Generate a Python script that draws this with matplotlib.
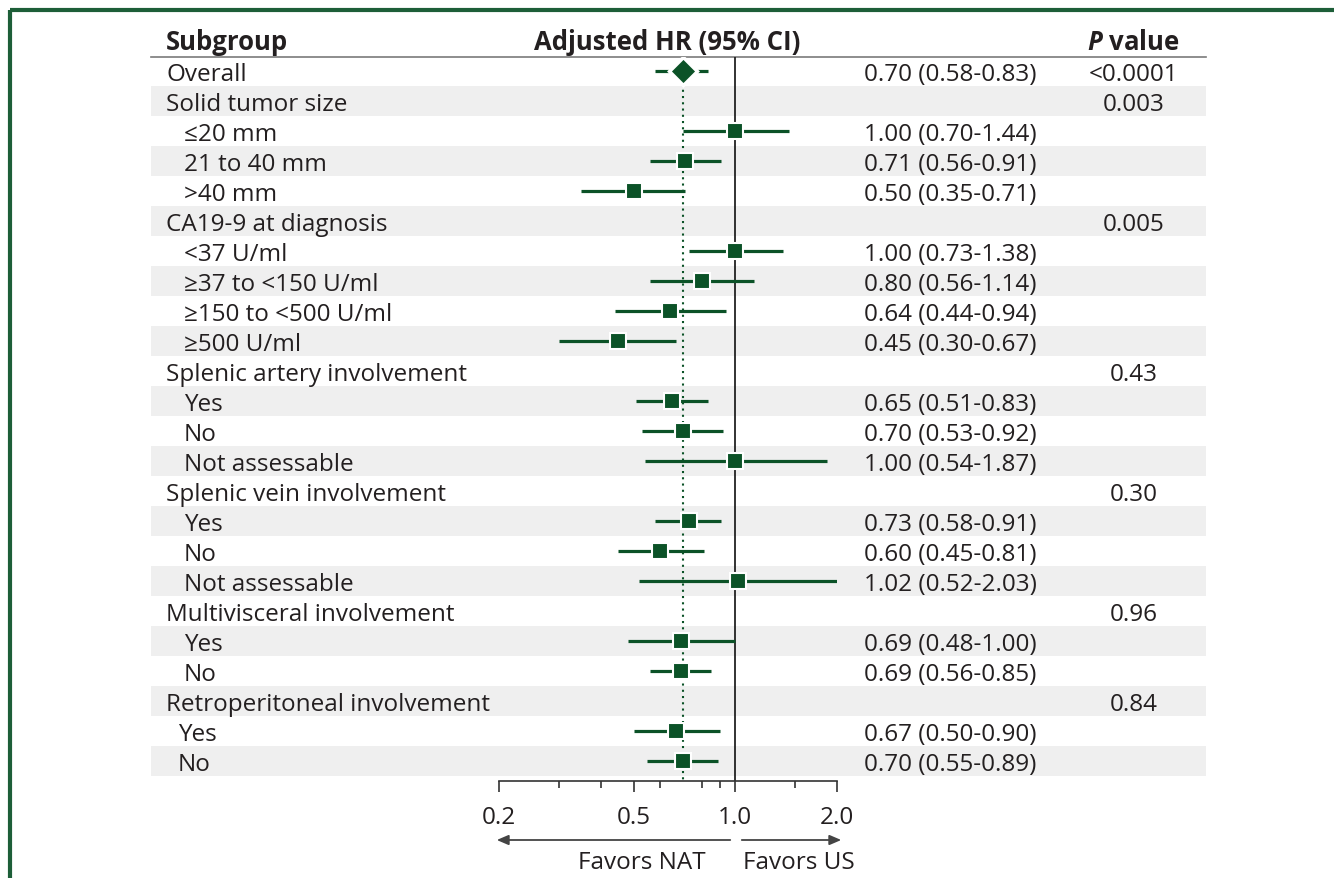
import matplotlib
matplotlib.use("Agg")
import matplotlib.pyplot as plt
import numpy as np

plt.rcParams['font.family'] = ['Open Sans', 'DejaVu Sans']
plt.rcParams['mathtext.fontset'] = 'custom'
plt.rcParams['mathtext.bfit'] = 'Open Sans:bold:italic'

# ---------------- data ----------------
labels = ["Overall", "Solid tumor size", "\u226420 mm", "21 to 40 mm", ">40 mm",
          "CA19-9 at diagnosis", "<37 U/ml", "\u226537 to <150 U/ml",
          "\u2265150 to <500 U/ml", "\u2265500 U/ml", "Splenic artery involvement",
          "Yes", "No", "Not assessable", "Splenic vein involvement",
          "Yes", "No", "Not assessable", "Multivisceral involvement",
          "Yes", "No", "Retroperitoneal involvement", "Yes", "No"]
hr = [0.70, None, 1.00, 0.71, 0.50, None, 1.00, 0.80, 0.64, 0.45, None,
      0.65, 0.70, 1.00, None, 0.73, 0.60, 1.02, None, 0.69, 0.69, None, 0.67, 0.70]
lo = [0.58, None, 0.70, 0.56, 0.35, None, 0.73, 0.56, 0.44, 0.30, None,
      0.51, 0.53, 0.54, None, 0.58, 0.45, 0.52, None, 0.48, 0.56, None, 0.50, 0.55]
hi = [0.83, None, 1.44, 0.91, 0.71, None, 1.38, 1.14, 0.94, 0.67, None,
      0.83, 0.92, 1.87, None, 0.91, 0.81, 2.03, None, 1.00, 0.85, None, 0.90, 0.89]
pvals = ["<0.0001", "0.003", "", "", "", "0.005", "", "", "", "", "0.43",
         "", "", "", "0.30", "", "", "", "0.96", "", "", "0.84", "", ""]
xticks = [0.2, 0.5, 1.0, 2.0]
xticklabels = ["0.2", "0.5", "1.0", "2.0"]
minor_ticks = [0.3, 0.4, 0.6, 0.8, 0.9, 1.5]

# ---------------- style ----------------
indent = [0, 0, 18, 18, 18, 0, 18, 18, 18, 18, 0, 18, 18, 18, 0, 18, 18, 18,
          0, 18, 18, 0, 12, 12]
GREEN = "#0b5227"
FRAME = "#1d5e38"
TXT = "#231f20"
SHADE = "#efefef"
W, H = 1334, 879
ROW0, PITCH = 72, 30

fig = plt.figure(figsize=(W / 100, H / 100), dpi=100)
bg = fig.add_axes([0, 0, 1, 1])
bg.set_xlim(0, W)
bg.set_ylim(H, 0)
bg.axis("off")

row_y = [ROW0 + PITCH * i for i in range(len(labels))]

# frame
bg.plot([10, W], [11, 11], color=FRAME, lw=3, solid_capstyle="butt")
bg.plot([10, 10], [11, H], color=FRAME, lw=3, solid_capstyle="butt")

# shading
for i, y in enumerate(row_y):
    if i % 2 == 1:
        bg.add_patch(plt.Rectangle((151, y - 15), 1206 - 151, 30,
                                   facecolor=SHADE, edgecolor="none", zorder=0))
# header line
bg.plot([151, 1206], [58, 58], color="#7a7a7a", lw=1.2)

fs = 17.5
hfs = 18.5
# header
bg.text(166, 50, "Subgroup", fontsize=hfs, fontweight="bold", color=TXT, va="baseline")
bg.text(667, 50, "Adjusted HR (95% CI)", fontsize=hfs, fontweight="bold",
        color=TXT, va="baseline", ha="center")
bg.text(1133, 50, r"$\bfit{P}$ value", fontsize=hfs, fontweight="bold",
        color=TXT, va="baseline", ha="center")

for i, y in enumerate(row_y):
    bg.text(166 + indent[i], y + 9, labels[i], fontsize=fs, color=TXT, va="baseline")
    if hr[i] is not None:
        bg.text(864, y + 9, f"{hr[i]:.2f} ({lo[i]:.2f}-{hi[i]:.2f})",
                fontsize=fs, color=TXT, va="baseline")
    if pvals[i]:
        bg.text(1134, y + 9, pvals[i], fontsize=fs, color=TXT, va="baseline", ha="center")

# ---------------- forest axes ----------------
x0, x1, ytop, ybot = 499, 837, 58, 782
ax = fig.add_axes([x0 / W, (H - ybot) / H, (x1 - x0) / W, (ybot - ytop) / H])
ax.set_xscale("log")
ax.set_xlim(0.2, 2.0)
ax.set_ylim(ybot, ytop)
ax.patch.set_alpha(0)
for s in ["top", "right", "left"]:
    ax.spines[s].set_visible(False)
ax.spines["bottom"].set_color("#333333")
ax.spines["bottom"].set_linewidth(1.2)
ax.set_yticks([])
ax.set_xticks(xticks)
ax.set_xticklabels(xticklabels)
ax.set_xticks(minor_ticks, minor=True)
ax.xaxis.set_minor_formatter(matplotlib.ticker.NullFormatter())
ax.tick_params(axis="x", which="major", length=8, width=1.2, color="#333333",
               labelsize=17.5, labelcolor=TXT, pad=9)
ax.tick_params(axis="x", which="minor", length=5, width=1.2, color="#333333")

ax.axvline(1.0, color="#222222", lw=1.3, zorder=1)
ax.plot([hr[0], hr[0]], [row_y[0], ybot], color=GREEN, lw=1.5, ls=(0, (1, 2)), zorder=1)

for i, y in enumerate(row_y):
    if hr[i] is None:
        continue
    ax.plot([lo[i], hi[i]], [y, y], color=GREEN, lw=2.3, solid_capstyle="butt", zorder=2)
    if i == 0:
        ax.plot(hr[i], y, marker="D", ms=14, color=GREEN, mec="white", mew=2.5, zorder=3)
    else:
        ax.plot(hr[i], y, marker="s", ms=11, color=GREEN, mec="white", mew=1.5, zorder=3)

# arrows + favors text
arrow_kw = dict(arrowstyle="-|>,head_length=0.7,head_width=0.3", color="#444444", lw=1.3)
bg.annotate("", xy=(494, 841), xytext=(733, 841), arrowprops=arrow_kw)
bg.annotate("", xy=(844, 841), xytext=(739, 841), arrowprops=arrow_kw)
bg.text(706, 869, "Favors NAT", fontsize=17.5, color=TXT, ha="right", va="baseline")
bg.text(743, 869, "Favors US", fontsize=17.5, color=TXT, ha="left", va="baseline")

fig.savefig("out.png", dpi=100)
